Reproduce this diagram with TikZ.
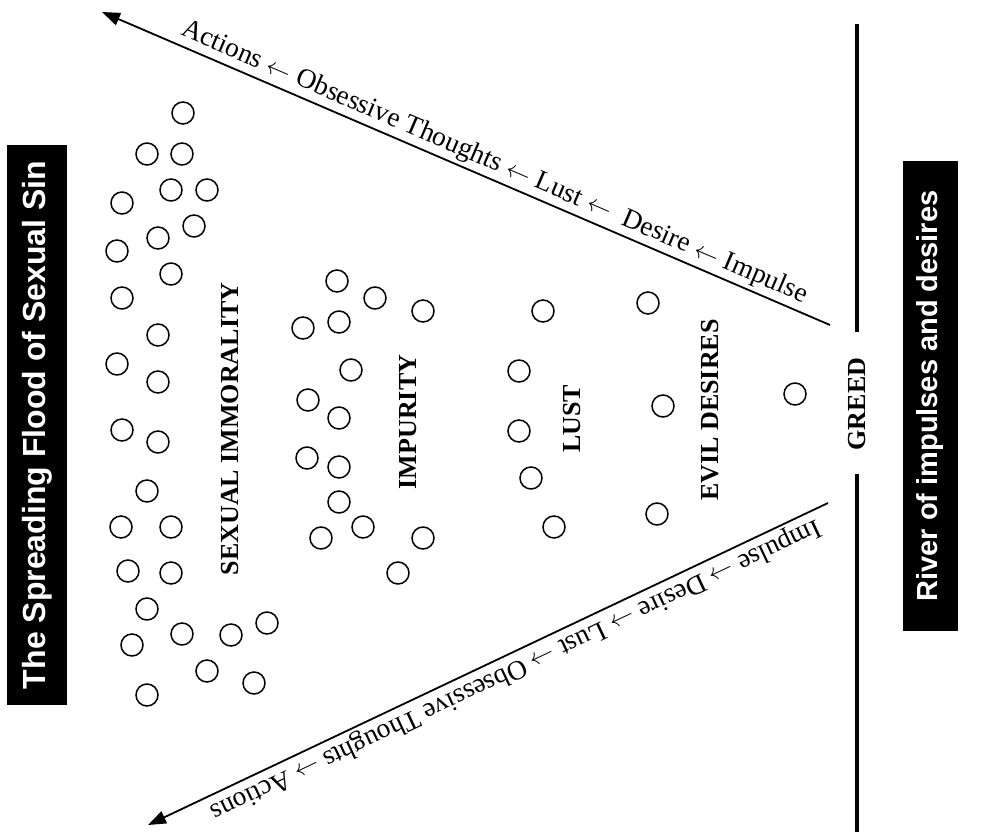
\documentclass[tikz,border=0pt]{standalone}
\usepackage{fontspec}
\setmainfont{Liberation Serif}
\newfontfamily\boxfont{Liberation Sans}
\usetikzlibrary{arrows.meta}

\begin{document}
\begin{tikzpicture}[x=1pt,y=-1pt,
  dot/.style={shape=circle,draw=black,line width=1.5pt,minimum size=22pt,inner sep=0pt},
  sinlabel/.style={rotate=90,font=\bfseries\fontsize{26}{26}\selectfont,inner sep=0pt},
  flowline/.style={-{Triangle[length=18pt,width=13pt]},draw=black,line width=1.8pt},
  flowtext/.style={sloped,above,pos=0.47,inner sep=3pt,font=\fontsize{27.5}{27.5}\selectfont},
  riverbank/.style={draw=black,line width=4.5pt},
  titlebox/.style={rotate=90,fill=black,text=white,inner sep=0pt}]
\useasboundingbox (0,0) rectangle (985,838);

% sexual immorality
\node[dot] (s1) at (183,113) {};
\node[dot] (s2) at (147,154) {};
\node[dot] (s3) at (182,154) {};
\node[dot] (s4) at (171,190) {};
\node[dot] (s5) at (207,190) {};
\node[dot] (s6) at (122,203) {};
\node[dot] (s7) at (194,226) {};
\node[dot] (s8) at (158,238) {};
\node[dot] (s9) at (117,251) {};
\node[dot] (s10) at (171,274) {};
\node[dot] (s11) at (122,298) {};
\node[dot] (s12) at (158,335) {};
\node[dot] (s13) at (117,364) {};
\node[dot] (s14) at (158,382) {};
\node[dot] (s15) at (122,430) {};
\node[dot] (s16) at (158,442) {};
\node[dot] (s17) at (147,491) {};
\node[dot] (s18) at (121,527) {};
\node[dot] (s19) at (171,527) {};
\node[dot] (s20) at (128,571) {};
\node[dot] (s21) at (171,573) {};
\node[dot] (s22) at (147,609) {};
\node[dot] (s23) at (132,645) {};
\node[dot] (s24) at (182,634) {};
\node[dot] (s25) at (231,635) {};
\node[dot] (s26) at (267,623) {};
\node[dot] (s27) at (207,671) {};
\node[dot] (s28) at (254,683) {};
\node[dot] (s29) at (147,695) {};

% impurity
\node[dot] (p1) at (337,281) {};
\node[dot] (p2) at (375,298) {};
\node[dot] (p3) at (423,311) {};
\node[dot] (p4) at (303,328) {};
\node[dot] (p5) at (339,322) {};
\node[dot] (p6) at (351,370) {};
\node[dot] (p7) at (308,400) {};
\node[dot] (p8) at (339,418) {};
\node[dot] (p9) at (307,458) {};
\node[dot] (p10) at (339,467) {};
\node[dot] (p11) at (339,502) {};
\node[dot] (p12) at (363,527) {};
\node[dot] (p13) at (321,538) {};
\node[dot] (p14) at (423,538) {};
\node[dot] (p15) at (398,573) {};

% lust
\node[dot] (l1) at (543,311) {};
\node[dot] (l2) at (519,371) {};
\node[dot] (l3) at (519,431) {};
\node[dot] (l4) at (531,478) {};
\node[dot] (l5) at (554,527) {};

% evil desires and greed
\node[dot] (e1) at (648,303) {};
\node[dot] (e2) at (663,406) {};
\node[dot] (e3) at (657,514) {};
\node[dot] (g1) at (795,394) {};

\node[sinlabel] (immorality) at (230,429) {SEXUAL IMMORALITY};
\node[sinlabel] (impurity) at (408,422) {IMPURITY};
\node[sinlabel] (lust) at (572,419) {LUST};
\node[sinlabel] (evil) at (710,410) {EVIL DESIRES};
\node[sinlabel] (greed) at (857,404) {GREED};

% river banks
\coordinate (banktop) at (857,24);
\coordinate (bankup) at (857,332);
\coordinate (banklow) at (857,474);
\coordinate (bankbot) at (857,832);
\draw[riverbank] (banktop) -- (bankup);
\draw[riverbank] (banklow) -- (bankbot);

% flow arrows
\coordinate (upstart) at (830,325);
\coordinate (uptip) at (102,12);
\coordinate (downstart) at (828,503);
\coordinate (downtip) at (148,825);
\draw[flowline] (upstart) -- node[flowtext] {Actions $\leftarrow$ Obsessive Thoughts $\leftarrow$ Lust $\leftarrow$\ \ Desire $\leftarrow$ Impulse} (uptip);
\draw[flowline] (downstart) -- node[flowtext,allow upside down] {Impulse $\rightarrow$ Desire $\rightarrow$ Lust $\rightarrow$ Obsessive Thoughts $\rightarrow$ Actions} (downtip);

% side titles
\node[titlebox,minimum width=560pt,minimum height=60pt,font=\boxfont\bfseries\fontsize{32}{32}\selectfont] (flood) at (37,425) {The Spreading Flood of Sexual Sin};
\node[titlebox,minimum width=470pt,minimum height=55pt,font=\boxfont\bfseries\fontsize{29}{29}\selectfont] (river) at (930,396) {River of impulses and desires};
\end{tikzpicture}
\end{document}
